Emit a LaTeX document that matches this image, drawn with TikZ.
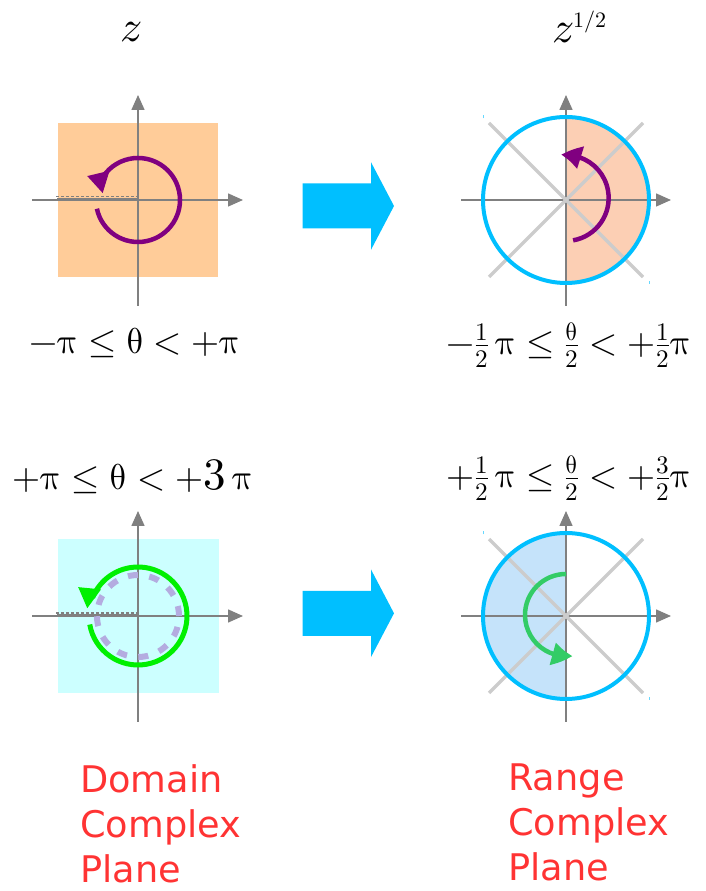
\documentclass[tikz,border=0pt]{standalone}
\usepackage{fontspec}
\usepackage{unicode-math}
\setmathfont{Latin Modern Math}
\newfontfamily\labelfont{DejaVu Sans}
\usetikzlibrary{arrows.meta,bending}

\definecolor{axisgray}{HTML}{808080}
\definecolor{diaggray}{HTML}{CCCCCC}
\definecolor{peach}{HTML}{FFCC99}
\definecolor{lightpeach}{HTML}{FCCFB4}
\definecolor{lightcyan}{HTML}{CCFFFF}
\definecolor{paleblue}{HTML}{C5E3FA}
\definecolor{skyblue}{HTML}{00BFFF}
\definecolor{purp}{HTML}{800080}
\definecolor{brightgreen}{HTML}{00F000}
\definecolor{midgreen}{HTML}{33CC66}
\definecolor{lavender}{HTML}{B4ACE0}
\definecolor{labelred}{HTML}{FF3333}

\tikzset{
  axis/.style={axisgray, line width=1.5pt, -{Triangle[length=15pt,width=13pt]}},
  cut/.style={axisgray, line width=3pt},
  cutdash/.style={axisgray, line width=1.2pt, dash pattern=on 3pt off 2pt},
  diag/.style={diaggray, line width=3.5pt},
  ring/.style={skyblue, line width=4pt},
  turn/.style={line width=4.5pt, -{Triangle[length=20pt,width=22pt,bend]}},
  speck/.style={skyblue!60, line width=1pt},
  mathlabel/.style={font=\fontsize{36}{40}\selectfont, inner sep=0pt},
  varlabel/.style={font=\fontsize{44}{48}\selectfont, inner sep=0pt},
  planelabel/.style={font=\labelfont\fontsize{36.7}{45}\selectfont, text=labelred,
    align=left, inner sep=0pt, anchor=north west},
}
\newcommand{\bigthree}{\hbox{\fontsize{45}{48}\selectfont$3$}}

\begin{document}
\begin{tikzpicture}[x=1pt,y=1pt]
\useasboundingbox (0,0) rectangle (705,891);

% top left: domain, first sheet
\begin{scope}[shift={(138,691)}]
  \fill[peach] (-80,-77) rectangle (80,77);
  \draw[axis] (-106,0) -- (105,0);
  \draw[axis] (0,-106) -- (0,105);
  \draw[cut] (-81,0) -- (0,0);
  \draw[cutdash] (-82,3.3) -- (0,3.3);
  \draw[purp, line width=4.5pt] (-168:42) arc[start angle=-168, end angle=152, radius=42]
    coordinate (tlend);
  \draw[purp, turn] (tlend) -- (-51,24);
\end{scope}

% top right: range, right half plane
\begin{scope}[shift={(566,691)}]
  \fill[lightpeach] (0,-82) arc[start angle=-90, end angle=90, radius=82] -- cycle;
  \draw[axis] (-105,0) -- (105,0);
  \draw[axis] (0,-106) -- (0,105);
  \draw[diag] (-77,77) -- (77,-77);
  \draw[diag] (-77,-77) -- (77,77);
  \draw[ring] (0,0) circle (83);
  \draw[purp, turn] (-80:41) arc[start angle=-80, end angle=96, radius=43];
  \draw[speck] (-83,81.5) -- (-83,84.5);
  \draw[speck] (83,-81.5) -- (83,-84.5);
\end{scope}

% bottom left: domain, second sheet
\begin{scope}[shift={(138,275)}]
  \fill[lightcyan] (-80,-77) rectangle (81,77);
  \draw[axis] (-106,0) -- (105,0);
  \draw[axis] (0,-106) -- (0,105);
  \draw[cut] (-81,0) -- (0,0);
  \draw[cutdash] (-82,3) -- (0,3);
  \draw[lavender, line width=6pt, dash pattern=on 10pt off 11.5pt] (0,0) circle (41);
  \draw[brightgreen, line width=5pt] (-170:49) arc[start angle=-170, end angle=158, radius=49]
    coordinate (blend);
  \draw[brightgreen, turn] (blend) -- (-60,29);
\end{scope}

% bottom right: range, left half plane
\begin{scope}[shift={(566,275)}]
  \fill[paleblue] (0,82) arc[start angle=90, end angle=270, radius=82] -- cycle;
  \draw[axis] (-105,0) -- (105,0);
  \draw[axis] (0,-106) -- (0,105);
  \draw[diag] (-77,77) -- (77,-77);
  \draw[diag] (-77,-77) -- (77,77);
  \draw[ring] (0,0) circle (83);
  \draw[midgreen, turn] (90:42) arc[start angle=90, end angle=279, radius=41];
  \draw[speck] (-83,81.5) -- (-83,84.5);
  \draw[speck] (83,-81.5) -- (83,-84.5);
\end{scope}

% mapping arrows
\foreach \ym in {685,277.7}
  \fill[skyblue] (302.7,\ym+22.5) -- (371,\ym+22.5) -- (371,\ym+43.8) -- (394,\ym)
    -- (371,\ym-43.8) -- (371,\ym-22.5) -- (302.7,\ym-22.5) -- cycle;

% labels
\node[varlabel, anchor=base] (zin) at (131,849) {$z$};
\node[varlabel, anchor=base west] (zout) at (552,848) {$z^{\scriptscriptstyle 1/2}$};
\node[mathlabel] (rangetl) at (135,548) {$-\uppi \le \uptheta < +\uppi$};
\node[mathlabel] (rangetr) at (569,546) {$-\frac{1}{2}\,\uppi \le \frac{\uptheta}{2} < +\frac{1}{2}\uppi$};
\node[mathlabel] (rangebl) at (133,414) {$+\uppi \le \uptheta < +\bigthree\,\uppi$};
\node[mathlabel] (rangebr) at (569,413) {$+\frac{1}{2}\,\uppi \le \frac{\uptheta}{2} < +\frac{3}{2}\uppi$};
\node[planelabel] (domain) at (80,127) {Domain\\Complex\\Plane};
\node[planelabel] (range) at (508,127) {Range\\Complex\\Plane};
\end{tikzpicture}
\end{document}
